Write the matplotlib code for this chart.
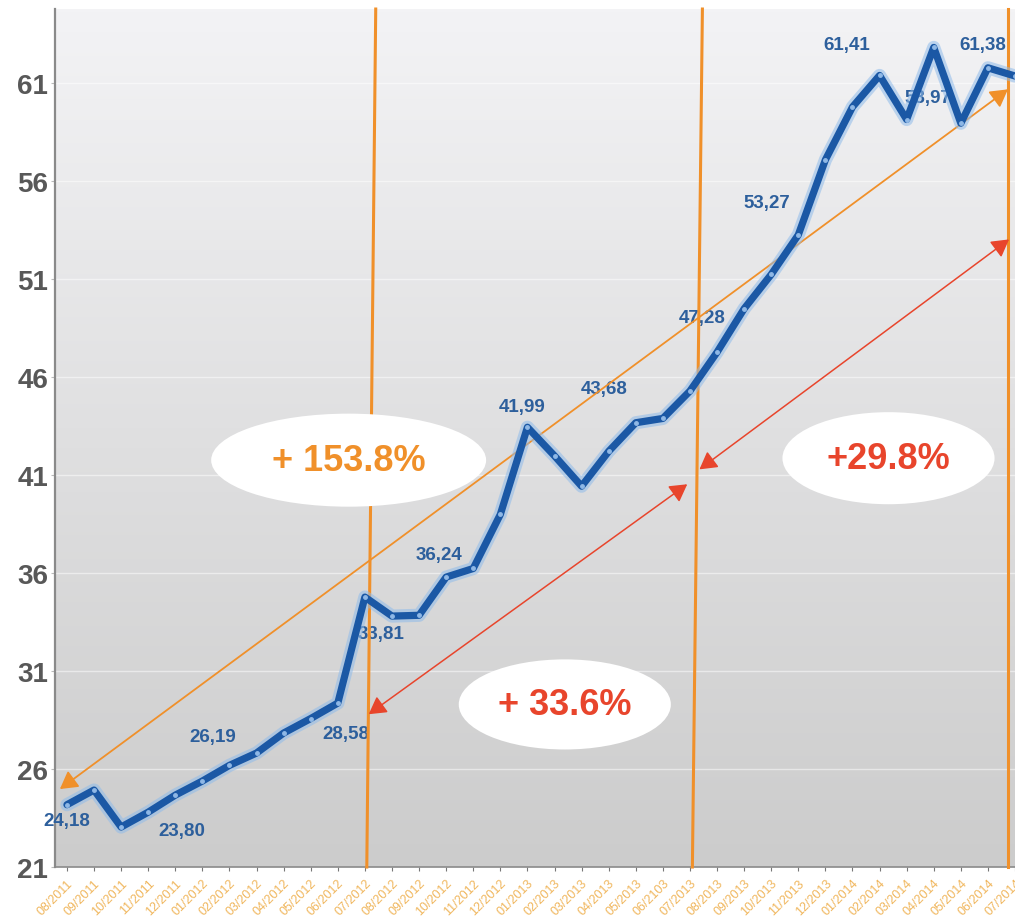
import numpy as np
import matplotlib
matplotlib.use("Agg")
import matplotlib.pyplot as plt
from matplotlib.patches import Ellipse, ArrowStyle

# mois (le "06/2103" est tel quel sur l'axe)
mois = ['08/2011', '09/2011', '10/2011', '11/2011', '12/2011',
        '01/2012', '02/2012', '03/2012', '04/2012', '05/2012', '06/2012',
        '07/2012', '08/2012', '09/2012', '10/2012', '11/2012', '12/2012',
        '01/2013', '02/2013', '03/2013', '04/2013', '05/2013', '06/2103',
        '07/2013', '08/2013', '09/2013', '10/2013', '11/2013', '12/2013',
        '01/2014', '02/2014', '03/2014', '04/2014', '05/2014', '06/2014',
        '07/2014']

cours = [24.18, 24.93, 23.04, 23.80, 24.67, 25.39, 26.19, 26.82, 27.84,
         28.58, 29.37, 34.78, 33.81, 33.85, 35.80, 36.24, 39.00, 43.45,
         41.99, 40.44, 42.22, 43.68, 43.90, 45.30, 47.28, 49.50, 51.25,
         53.27, 57.10, 59.80, 61.41, 59.16, 62.84, 58.97, 61.80, 61.38]

# points dont la valeur est ecrite sur le graphe
points_etiquetes = [0, 3, 6, 9, 12, 15, 18, 21, 24, 27, 30, 33, 35]

# hausses par periode
hausses = ["+ 153.8%", "+ 33.6%", "+29.8%"]

yticks = [21, 26, 31, 36, 41, 46, 51, 56, 61]

# decalage des etiquettes (en unites du graphe)
decalages = {0: (0.0, -0.83), 3: (1.23, -0.96), 6: (-0.6, 1.49),
             9: (1.3, -0.74), 12: (-0.4, -0.9), 15: (-1.25, 0.73),
             18: (-1.2, 2.53), 21: (-1.15, 1.76), 24: (-0.55, 1.78),
             27: (-1.15, 1.66), 30: (-1.2, 1.59), 33: (-1.2, 1.33),
             35: (-1.2, 1.62)}

bleu = '#1b58a5'
orange = '#f0902a'
rouge = '#e8452c'
polices = ['Liberation Sans', 'DejaVu Sans']

fig = plt.figure(figsize=(10.15, 9.2), dpi=100)
ax = fig.add_axes([0.0542, 0.0565, 0.9458, 0.9326])

x = np.arange(len(cours))
ax.set_xlim(-0.44, 34.85)
ax.set_ylim(21, 64.8)

# fond degrade
grad = np.linspace(1, 0, 256).reshape(-1, 1)
haut = np.array([0.953, 0.953, 0.961])
bas = np.array([0.80, 0.80, 0.80])
img = bas + (haut - bas) * grad[..., None]
ax.imshow(img.reshape(256, 1, 3), extent=[0, 1, 0, 1], transform=ax.transAxes,
          aspect='auto', zorder=0)

for v in yticks:
    ax.axhline(v, color='white', lw=1, alpha=0.5, zorder=1)

# axes
for s in ['top', 'right']:
    ax.spines[s].set_visible(False)
ax.spines['left'].set_color('#8a8a8a')
ax.spines['left'].set_linewidth(1.6)
ax.spines['bottom'].set_color('#8a8a8a')
ax.spines['bottom'].set_linewidth(1.2)

ax.set_yticks(yticks)
ax.set_yticklabels([str(v) for v in yticks], fontsize=20, fontweight='bold',
                   color='#585858', family=polices)
ax.tick_params(axis='y', length=3, color='#bbbbbb', pad=2)
ax.set_xticks(x)
ax.set_xticklabels(mois, rotation=45, ha='right', va='top', rotation_mode='anchor',
                   fontsize=9, color='#f0b65c', family=polices)
ax.tick_params(axis='x', length=3, color='#777777', pad=4)

# lignes verticales de separation
for xb, xh in [(11.07, 11.40), (23.09, 23.46), (34.74, 34.74)]:
    ax.plot([xb, xh], [21, 64.8], color=orange, lw=2.2, zorder=3.5, clip_on=False)

# fleches
style = ArrowStyle('<|-|>', head_length=0.7, head_width=0.4)
fleches = [((-0.26, 24.98), (34.74, 60.7), orange, 1.3),
           ((11.14, 28.8), (22.9, 40.54), rouge, 1.1),
           ((23.35, 41.3), (34.78, 53.04), rouge, 1.1)]
for debut, fin, c, lw in fleches:
    ax.annotate('', xy=fin, xytext=debut,
                arrowprops=dict(arrowstyle=style, color=c, lw=lw,
                                mutation_scale=15, shrinkA=0, shrinkB=0),
                zorder=3.6, annotation_clip=False)

# bulles des hausses
bulles = [((10.4, 41.77), 10.15, 4.75, orange),
          ((18.38, 29.3), 7.83, 4.6, rouge),
          ((30.33, 41.87), 7.83, 4.7, rouge)]
for (cx, cy), w, h, c in bulles:
    ax.add_patch(Ellipse((cx, cy), w, h, facecolor='white', edgecolor='none', zorder=4))
for ((cx, cy), w, h, c), txt in zip(bulles, hausses):
    ax.text(cx, cy, txt, color=c, fontsize=26, fontweight='bold', ha='center',
            va='center', family=polices, zorder=4.5)

# courbe avec halo
ax.plot(x, cours, color='#8fbbea', lw=9.5, alpha=0.55, zorder=5,
        solid_joinstyle='round', solid_capstyle='round')
ax.plot(x, cours, color=bleu, lw=5.2, zorder=5.1,
        solid_joinstyle='round', solid_capstyle='round')
ax.plot(x, cours, 'o', color='#8fb8e6', ms=2.5, zorder=5.2)

# valeurs
for i in points_etiquetes:
    dx, dy = decalages[i]
    ax.text(i + dx, cours[i] + dy, f"{cours[i]:.2f}".replace('.', ','),
            color='#2d5f9c', fontsize=13.5, fontweight='bold', ha='center',
            va='center', family=polices, zorder=3)

fig.savefig('out.png', dpi=100, facecolor='white')
